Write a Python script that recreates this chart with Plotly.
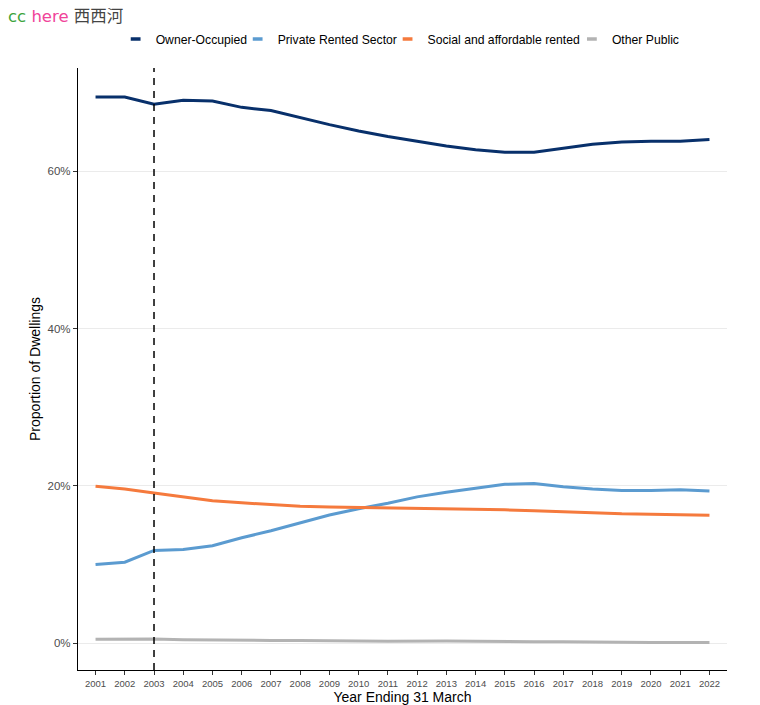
import plotly.graph_objects as go

years = list(range(2001, 2023))
owner_occupied = [69.4, 69.4, 68.5, 69.0, 68.9, 68.1, 67.7, 66.8, 65.9, 65.1, 64.4, 63.8,
                  63.2, 62.7, 62.4, 62.4, 62.9, 63.4, 63.7, 63.8, 63.8, 64.0]
private_rented = [10.0, 10.3, 11.8, 11.9, 12.4, 13.4, 14.3, 15.3, 16.3, 17.1, 17.8, 18.6,
                  19.2, 19.7, 20.2, 20.3, 19.9, 19.6, 19.4, 19.4, 19.5, 19.35]
social_rented = [19.95, 19.6, 19.1, 18.6, 18.1, 17.85, 17.6, 17.4, 17.3, 17.25, 17.2, 17.15,
                 17.1, 17.0, 16.95, 16.85, 16.7, 16.55, 16.45, 16.4, 16.3, 16.25]
other_public = [0.5, 0.55, 0.55, 0.45, 0.4, 0.4, 0.35, 0.35, 0.35, 0.3, 0.25, 0.3,
                0.3, 0.25, 0.2, 0.2, 0.2, 0.15, 0.15, 0.1, 0.1, 0.1]

series_names = ["Owner-Occupied", "Private Rented Sector", "Social and affordable rented", "Other Public"]
series_values = [owner_occupied, private_rented, social_rented, other_public]
series_colors = ["#08306B", "#5B9BD0", "#F57A3D", "#B3B3B3"]

y_ticks = [0, 20, 40, 60]
y_tick_labels = ["0%", "20%", "40%", "60%"]
marker_year = 2003

FONT = "Liberation Sans, Arial, sans-serif"

# legend entry left edges, as fractions of plot width
legend_x = [0.058, 0.246, 0.477, 0.761]
legend_ids = ["legend", "legend2", "legend3", "legend4"]

fig = go.Figure()
for name, vals, col, lid in zip(series_names, series_values, series_colors, legend_ids):
    fig.add_trace(go.Scatter(x=years, y=vals, mode="lines", name=name,
                             line=dict(color=col, width=3), showlegend=False))
    fig.add_trace(go.Scatter(x=[None], y=[None], mode="markers", name=name,
                             marker=dict(symbol="line-ew", size=7,
                                         line=dict(color=col, width=3.5)),
                             showlegend=True, legend=lid))

fig.add_vline(x=marker_year, line=dict(color="black", width=1.5, dash="7px,6px"))

legend_common = dict(orientation="h", y=1.048, yanchor="middle", xanchor="left",
                     font=dict(size=12.2, color="#000000"), itemwidth=30,
                     bgcolor="rgba(0,0,0,0)")
legend_layout = {lid: dict(x=lx, **legend_common) for lid, lx in zip(legend_ids, legend_x)}

fig.update_layout(
    width=752, height=697,
    paper_bgcolor="white", plot_bgcolor="white",
    margin=dict(l=70, r=33, t=60, b=35, autoexpand=False),
    font=dict(family=FONT, color="#333333"),
    title=dict(
        text="<span style='color:#3CA43C'>cc</span> <span style='color:#F0449A'>here</span> <span style='color:#444444'>西西河</span>",
        xref="container", yref="container", x=0.0, y=1.0, xanchor="left", yanchor="top",
        pad=dict(l=0, t=2),
        font=dict(size=16.5, family="DejaVu Sans, Noto Sans CJK SC, sans-serif")),
    showlegend=True,
    **legend_layout,
)

fig.update_xaxes(
    range=[2000.4, 2022.6], tickmode="array", tickvals=years, ticktext=[str(y) for y in years],
    tickfont=dict(size=9.5, color="#4D4D4D"), showgrid=False, zeroline=False, automargin=False,
    showline=True, linecolor="black", linewidth=1.3, ticks="outside", ticklen=4,
    tickcolor="#333333",
    title=dict(text="Year Ending 31 March", font=dict(size=14, color="#000000"), standoff=1),
)
fig.update_yaxes(
    range=[-3.4, 73.1], tickmode="array", tickvals=y_ticks, ticktext=y_tick_labels,
    tickfont=dict(size=11.5, color="#4D4D4D"), showgrid=True, gridcolor="#EBEBEB", gridwidth=1,
    zeroline=False, showline=True, linecolor="black", linewidth=1.3, ticks="outside",
    ticklen=4, tickcolor="#333333", automargin=False,
    title=dict(text="Proportion of Dwellings", font=dict(size=14, color="#000000"), standoff=3),
)

fig.write_html("out.html")
